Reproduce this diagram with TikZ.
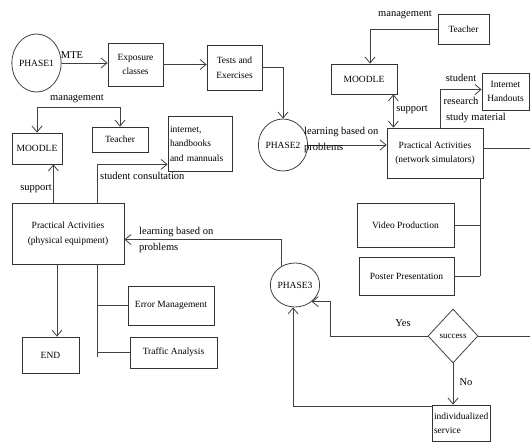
\documentclass[tikz,border=0pt]{standalone}
\usepackage{fontspec}
\setmainfont{Liberation Serif}
\usetikzlibrary{arrows.meta,shapes.geometric,calc}
\tikzset{
  box/.style={draw=black!80,line width=0.8pt,inner sep=1pt,align=center,
    font=\fontsize{9.5}{14.5}\selectfont,fill=white},
  oval/.style={draw=black!75,line width=0.8pt,ellipse,inner sep=0pt,
    font=\fontsize{9.5}{12}\selectfont},
  lbl/.style={inner sep=0pt,font=\fontsize{10.5}{16.5}\selectfont,align=left},
  conn/.style={draw=black!75,line width=0.8pt},
  arr/.style={conn,-{Straight Barb[length=6pt,width=10pt]}},
  arrb/.style={conn,{Straight Barb[length=6pt,width=10pt]}-{Straight Barb[length=6pt,width=10pt]}},
}
\begin{document}
\begin{tikzpicture}[x=1pt,y=-1pt]
\useasboundingbox (0,0) rectangle (530,442);
% ovals
\node[oval,minimum width=41pt,minimum height=58pt] (phase1) at (36.5,63) {PHASE1};
\node[oval,minimum width=40pt,minimum height=52pt] (phase2) at (283,145) {PHASE2};
\node[oval,minimum width=44pt,minimum height=44pt] (phase3) at (295,285) {PHASE3};
\node[draw=black!75,line width=0.8pt,diamond,minimum width=50pt,minimum height=54pt,inner sep=0pt,
  font=\fontsize{9}{11}\selectfont] (success) at (453,336) {success};
% boxes
\node[box,minimum width=55pt,minimum height=43pt] (exp) at (135.5,64.5) {Exposure\\classes};
\node[box,minimum width=55pt,minimum height=45pt] (tests) at (234.5,67.5) {Tests and\\Exercises};
\node[box,minimum width=66pt,minimum height=30pt] (moodleR) at (364,79) {MOODLE};
\node[box,minimum width=51pt,minimum height=30pt] (teacherR) at (463.5,29) {Teacher};
\node[box,minimum width=96pt,minimum height=50pt] (netsim) at (435,153) {Practical Activities\\(network simulators)};
\node[box,minimum width=47pt,minimum height=37pt] (handouts) at (505.5,91.5) {Internet\\Handouts};
\node[box,minimum width=97pt,minimum height=44pt] (video) at (405.5,225) {Video Production};
\node[box,minimum width=95pt,minimum height=38pt] (poster) at (406.5,276) {Poster Presentation};
\node[box,minimum width=50pt,minimum height=31pt] (moodleL) at (37,148.5) {MOODLE};
\node[box,minimum width=56pt,minimum height=25pt] (teacherL) at (120,139.5) {Teacher};
\node[box,minimum width=64pt,minimum height=55pt,align=left,text width=60pt] (handbooks) at (200,143.5) {internet,\\handbooks\\and mannuals};
\node[box,minimum width=112pt,minimum height=61pt] (phys) at (68,233.5) {Practical Activities\\(physical equipment)};
\node[box,minimum width=57pt,minimum height=36pt] (end) at (50.5,355) {END};
\node[box,minimum width=86pt,minimum height=39pt] (error) at (171,305.5) {Error Management};
\node[box,minimum width=87pt,minimum height=31pt] (traffic) at (173.5,352.5) {Traffic Analysis};
\node[box,minimum width=58pt,minimum height=36pt,align=left,text width=54pt] (indiv) at (461,423) {individualized\\service};
% coordinates
\coordinate (rightA) at (530,148);
\coordinate (rightB) at (530,336);
\coordinate (yc) at (330,0);
\coordinate (vx) at ([xshift=-3pt]netsim.south east);
% connectors
\draw[arr] (phase1.east) -- (phase1.east -| exp.west);
\draw[arr] (exp.east) -- (exp.east -| tests.west);
\draw[arr] (tests.east) -| (phase2.north);
\draw[arr] (phase2.east) -- (phase2.east -| netsim.west);
\draw[conn] (netsim.east |- rightA) -- (rightA);
\draw[arr] (teacherR.west) -| ([xshift=6pt]moodleR.north);
\draw[arrb] ([xshift=-4pt]moodleR.south east) -- ([xshift=-4pt]moodleR.south east |- netsim.north);
\draw[arr] ([xshift=5pt]netsim.north) |- ([yshift=2pt]handouts.west);
\draw[conn] (vx) -- (vx |- poster.east);
\draw[conn] (video.east) -- (video.east -| vx);
\draw[conn] (poster.east) -- (poster.east -| vx);
\draw[arrb] (moodleL.north) -- ++(0,-25) -| (teacherL.north);
\draw[arr] ([xshift=-9pt]moodleL.south east |- phys.north) -- ([xshift=-9pt]moodleL.south east);
\draw[arr] ([xshift=29pt]phys.north) |- ([yshift=7pt]handbooks.south west);
\draw[arr] (phase3.126) |- ([yshift=-6pt]phys.east);
\draw[arr] (success.west) -| (yc |- phase3.-45) -- (phase3.-45);
\draw[arr] (success.south) -- (success.south |- indiv.north);
\draw[conn] (success.east) -- (rightB);
\draw[arr] ([yshift=-2pt]indiv.north west) -| (phase3.265);
\draw[arr] ([xshift=6.5pt]end.north |- phys.south) -- ([xshift=6.5pt]end.north);
\draw[conn] ([xshift=29pt]phys.south) -- ([xshift=29pt]phys.south |- 0,357);
\draw[conn] (error.west) -- (error.west -| 97,0);
\draw[conn] (traffic.west) -- (traffic.west -| 97,0);
% labels
\node[lbl] (mte) at (72,55) {MTE};
\node[lbl] (mgR) at (405,15) {management};
\node[lbl] (supR) at (412,110) {support};
\node[lbl] (stud) at (461,78) {student};
\node[lbl] (res) at (461,101) {research};
\node[lbl] (study) at (476,118) {study material};
\node[lbl,anchor=west] (lbp2) at (304,140) {learning based on\\problems};
\node[lbl] (mgL) at (77,99) {management};
\node[lbl] (supL) at (36,189) {support};
\node[lbl,anchor=west] (sc) at (100,176) {student consultation};
\node[lbl,anchor=west] (lbp3) at (139,240) {learning based on\\problems};
\node[lbl] (yes) at (403,323) {Yes};
\node[lbl] (no) at (466,382) {No};
\end{tikzpicture}
\end{document}
